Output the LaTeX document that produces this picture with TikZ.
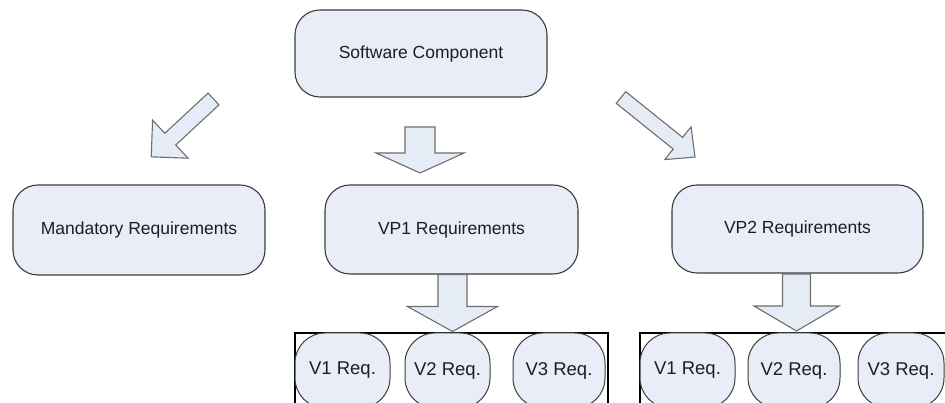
\documentclass[tikz,border=0pt]{standalone}
\usepackage{fontspec}
\setmainfont{Liberation Sans}
\definecolor{boxfill}{HTML}{E9EDF7}
\definecolor{boxline}{HTML}{3C3C3C}
\definecolor{arrfill}{HTML}{E6ECF6}
\definecolor{arrline}{HTML}{6E6E6E}
\definecolor{txt}{HTML}{1E1E1E}
\tikzset{
  reqbox/.style={draw=boxline, fill=boxfill, line width=1.1pt, rounded corners=25pt,
    minimum width=#1, minimum height=88pt, inner sep=0pt,
    font=\fontsize{17.5}{20}\selectfont, text=txt},
  vbox/.style={draw=boxline, fill=boxfill, line width=1pt, rounded corners=30pt,
    minimum width=#1, minimum height=75pt, inner sep=0pt,
    font=\fontsize{18.5}{21}\selectfont, text=txt},
  holder/.style={draw=black, line width=1.1pt},
  blockarrow/.style={draw=arrline, fill=arrfill, line width=1.1pt, line join=miter}
}
\newcommand\blockarr[6]{%
  \begin{scope}[shift={#1}, rotate=#2]
    \draw[blockarrow] (0,-#4) -- ({#3-#6},-#4) -- ({#3-#6},-#5) -- (#3,0)
      -- ({#3-#6},#5) -- ({#3-#6},#4) -- (0,#4) -- cycle;
  \end{scope}}
\begin{document}
\begin{tikzpicture}[x=1pt,y=1pt]
\useasboundingbox (0,0) rectangle (945,403);
% main boxes
\node[reqbox=252pt, minimum height=87pt] (sw) at (421,349.5) {Software Component};
\node[reqbox=252pt, minimum height=90pt] (mand) at (139,173) {Mandatory Requirements};
\node[reqbox=253pt, minimum height=89pt] (vp1) at (451.5,173.5) {VP1 Requirements};
\node[reqbox=251pt, minimum height=88pt] (vp2) at (797.5,174) {VP2 Requirements};
% containers
\draw[holder] (295,-10) rectangle (608,70);
\draw[holder] (640,-10) rectangle (950,70);
% variant nodes
\node[vbox=95pt] (a1) at (342.5,32.5) {V1 Req.};
\node[vbox=85pt] (a2) at (447.5,32.5) {V2 Req.};
\node[vbox=92pt] (a3) at (559,32.5) {V3 Req.};
\node[vbox=95pt] (b1) at (687.5,32.5) {V1 Req.};
\node[vbox=92pt] (b2) at (794,32.5) {V2 Req.};
\node[vbox=86pt] (b3) at (901,32.5) {V3 Req.};
% block arrows
\coordinate (tl) at (213.5,304);
\coordinate (tm) at (420,276);
\coordinate (tr) at (621,305.5);
\blockarr{(tl)}{222.9}{85}{8}{26}{26}
\blockarr{(tm)}{-90}{46}{15}{44}{20}
\blockarr{(tr)}{-38.8}{95}{7.5}{21}{22}
\coordinate (b1s) at (452.5,128.5);
\coordinate (b2s) at (796.5,129);
\blockarr{(b1s)}{-90}{57}{14.5}{45}{25}
\blockarr{(b2s)}{-90}{57}{14}{42.5}{25}
\end{tikzpicture}
\end{document}
